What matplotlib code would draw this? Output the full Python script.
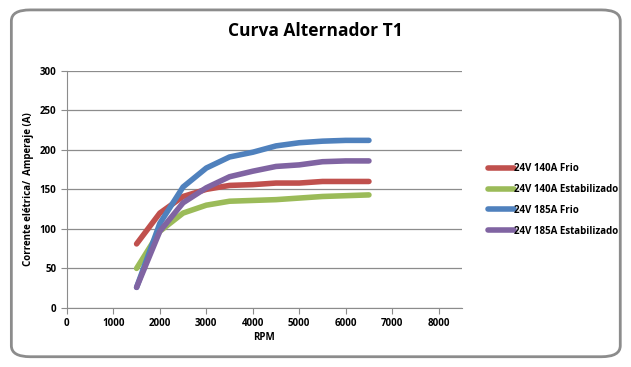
import matplotlib.pyplot as plt
from matplotlib.patches import FancyBboxPatch

rpm = [1500, 2000, 2500, 3000, 3500, 4000, 4500, 5000, 5500, 6000, 6500]
red_140_frio = [81, 120, 141, 150, 155, 156, 158, 158, 160, 160, 160]
green_140_est = [50, 97, 120, 130, 135, 136, 137, 139, 141, 142, 143]
blue_185_frio = [26, 107, 153, 177, 191, 197, 205, 209, 211, 212, 212]
purple_185_est = [26, 97, 133, 152, 166, 173, 179, 181, 185, 186, 186]

labels = ["24V 140A Frio", "24V 140A Estabilizado", "24V 185A Frio", "24V 185A Estabilizado"]
colors = ["#C0504D", "#9BBB59", "#4F81BD", "#8064A2"]

plt.rcParams["font.family"] = ["Open Sans", "DejaVu Sans"]

fig = plt.figure(figsize=(6.31, 3.67), dpi=100)
fig.patches.append(FancyBboxPatch((0.018, 0.028), 0.965, 0.945,
                                  boxstyle="round,pad=0,rounding_size=0.03",
                                  transform=fig.transFigure, fill=False,
                                  edgecolor="#8c8c8c", linewidth=2.0))

ax = fig.add_axes([0.106, 0.161, 0.626, 0.646])
series = [red_140_frio, green_140_est, blue_185_frio, purple_185_est]
for vals, lab, col in zip(series, labels, colors):
    ax.plot(rpm, vals, color=col, linewidth=4.0, label=lab, solid_capstyle="round")

ax.set_xlim(0, 8500)
ax.set_ylim(0, 300)
ax.set_xticks(range(0, 8001, 1000))
ax.set_yticks(range(0, 301, 50))
ax.yaxis.grid(True, color="#8c8c8c", linewidth=0.9)
ax.set_axisbelow(True)
for s in ["top", "right"]:
    ax.spines[s].set_visible(False)
for s in ["left", "bottom"]:
    ax.spines[s].set_color("#8c8c8c")
ax.tick_params(colors="#8c8c8c", length=4, labelsize=7, labelcolor="black")
for t in ax.get_xticklabels() + ax.get_yticklabels():
    t.set_fontweight("bold")

ax.set_xlabel("RPM", fontsize=7, fontweight="bold", labelpad=2)
ax.set_ylabel("Corrente elétrica/  Amperaje (A)", fontsize=7, fontweight="bold", labelpad=4)
fig.text(0.5, 0.915, "Curva Alternador T1", ha="center", va="center",
         fontsize=12.5, fontweight="bold")

leg = ax.legend(loc="center left", bbox_to_anchor=(1.045, 0.455), frameon=False,
                prop={"weight": "bold", "size": 7},
                handlelength=2.6, handletextpad=0.0, labelspacing=1.0)

fig.savefig("out.png", dpi=100)
